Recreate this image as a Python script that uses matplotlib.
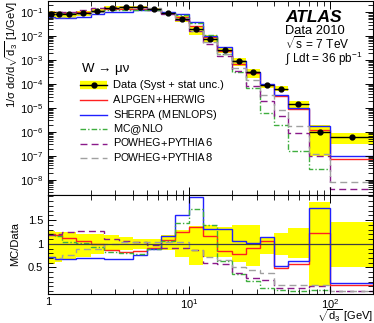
import numpy as np
import matplotlib
matplotlib.use('Agg')
import matplotlib.pyplot as plt
from matplotlib.lines import Line2D
from matplotlib.offsetbox import TextArea, HPacker, AnnotationBbox
from matplotlib.ticker import LogLocator, FixedLocator, FuncFormatter, MultipleLocator, NullFormatter

plt.rcParams['font.family'] = ['Liberation Sans', 'DejaVu Sans']
plt.rcParams['mathtext.fontset'] = 'custom'
plt.rcParams['mathtext.rm'] = 'Liberation Sans'
plt.rcParams['mathtext.it'] = 'Liberation Sans:italic'
plt.rcParams['mathtext.bf'] = 'Liberation Sans:bold'

# bin edges of sqrt(d3) [GeV]
edges = [1, 1.12, 1.26, 1.58, 2.0, 2.51, 3.16, 3.98, 5.01, 6.31, 7.94, 10,
         12.6, 15.8, 20, 25.1, 31.6, 39.8, 50.1, 70, 100, 200]

# measured distribution 1/sigma dsigma/dsqrt(d3)
data = [0.086, 0.086, 0.086, 0.094, 0.118, 0.152, 0.16, 0.16, 0.139, 0.091,
        0.053, 0.020, 0.0078, 0.0027, 9.1e-4, 3.2e-4, 8.9e-5, 6.5e-5, 1.5e-5,
        1.0e-6, 5.9e-7]

# total uncertainty band, relative to data
band_up = [1.27, 1.25, 1.25, 1.21, 1.21, 1.18, 1.14, 1.11, 1.10, 1.18, 1.30,
           1.38, 1.39, 1.35, 1.39, 1.39, 1.14, 1.22, 1.33, 1.88, 1.46]
band_dn = [0.58, 0.62, 0.67, 0.72, 0.79, 0.86, 0.86, 0.90, 0.90, 0.86, 0.72,
           0.55, 0.72, 0.72, 0.61, 0.54, 0.79, 0.76, 0.69, 0.10, 0.51]

# MC / data ratios
alpgen = [1.21, 1.19, 1.12, 1.06, 1.00, 0.86, 0.83, 0.85, 0.92, 1.07, 1.25,
          1.36, 1.17, 0.85, 0.79, 0.91, 1.05, 0.48, 0.58, 1.23, 0.12]
sherpa = [0.72, 0.67, 0.67, 0.70, 0.70, 0.67, 0.67, 0.76, 0.90, 1.16, 1.60,
          1.98, 1.32, 1.32, 1.05, 1.02, 1.15, 0.54, 0.64, 1.76, 0.17]
mcatnlo = [1.21, 1.17, 1.04, 1.02, 0.93, 0.83, 0.81, 0.79, 0.88, 1.06, 1.44,
           1.73, 1.39, 0.64, 0.36, 0.21, 0.07, 0.029, 0.011, 0.028]
powheg6 = [1.18, 1.21, 1.24, 1.28, 1.26, 1.11, 1.06, 1.04, 0.97, 0.91, 0.91,
           0.86, 0.60, 0.57, 0.38, 0.27, 0.23, 0.07, 0.062, 0.10, 0.007]
powheg8 = [0.69, 0.71, 0.76, 0.90, 0.90, 1.00, 1.04, 1.04, 1.04, 1.04, 1.04,
           0.86, 0.72, 0.65, 0.52, 0.45, 0.38, 0.13, 0.12, 0.12, 0.013]

edges = np.array(edges)
data = np.array(data)
centers = np.sqrt(edges[:-1] * edges[1:])

c_red, c_blue, c_green, c_purple, c_gray = '#ff2020', '#2020ff', '#3fae3f', '#8a1a8a', '#a0a0a0'
models = [
    (alpgen, c_red, '-'),
    (sherpa, c_blue, '-'),
    (mcatnlo, c_green, (0, (4, 1.5, 1, 1.5))),
    (powheg6, c_purple, (0, (5, 3))),
    (powheg8, c_gray, (0, (5, 3))),
]

fig = plt.figure(figsize=(3.74, 3.23), dpi=100)
L, R = 48 / 374, 373 / 374
ax = fig.add_axes([L, 1 - 195 / 323, R - L, 194.5 / 323])
ax2 = fig.add_axes([L, 1 - 294 / 323, R - L, 99 / 323], sharex=ax)

# top panel
ax.stairs(data * np.array(band_up), edges, baseline=data * np.array(band_dn),
          fill=True, color='#ffff00', lw=0)
for ratio, col, ls in models:
    r = np.array(ratio)
    ax.stairs(data[:len(r)] * r, edges[:len(r) + 1], baseline=None,
              color=col, ls=ls, lw=1.0)
ax.errorbar(centers, data, xerr=[centers - edges[:-1], edges[1:] - centers],
            fmt='o', color='k', ms=3.5, lw=1.0, capsize=0)
ax.set_xscale('log')
ax.set_yscale('log')
ax.set_xlim(1, 200)
ax.set_ylim(2.3e-9, 0.31)
ax.set_ylabel('1/σ dσ/d$\\sqrt{\\mathrm{d}_3}$ [1/GeV]', loc='top', fontsize=8)
ax.yaxis.set_label_coords(-0.085, 1.0)
ax.yaxis.set_major_locator(FixedLocator([1e-8, 1e-7, 1e-6, 1e-5, 1e-4, 1e-3, 1e-2, 1e-1]))
ax.yaxis.set_minor_locator(LogLocator(base=10, subs=np.arange(2, 10), numticks=20))
ax.yaxis.set_minor_formatter(NullFormatter())
plt.setp(ax.get_xticklabels(), visible=False)

# ratio panel
ax2.stairs(band_up, edges, baseline=band_dn, fill=True, color='#ffff00', lw=0)
ax2.axhline(1, color='#404040', lw=0.9)
for ratio, col, ls in models:
    ax2.stairs(ratio, edges[:len(ratio) + 1], baseline=None, color=col, ls=ls, lw=1.0)
ax2.set_ylim(-0.06, 2.03)
ax2.yaxis.set_major_locator(FixedLocator([0.5, 1.0, 1.5]))
ax2.yaxis.set_major_formatter(FuncFormatter(lambda v, p: '%g' % v))
ax2.yaxis.set_minor_locator(MultipleLocator(0.1))
ax2.set_ylabel('MC/Data', fontsize=8)
ax2.yaxis.set_label_coords(-0.085, 0.5)
ax2.set_xlabel('$\\sqrt{\\mathrm{d}_3}$ [GeV]', loc='right', fontsize=8)
ax2.xaxis.set_label_coords(1.0, -0.135)
ax2.xaxis.set_major_locator(FixedLocator([1, 10, 100]))
ax2.xaxis.set_major_formatter(FuncFormatter(
    lambda v, p: {1: '1', 10: '$10^{1}$', 100: '$10^{2}$'}.get(int(round(v)), '')))
ax2.xaxis.set_minor_locator(LogLocator(base=10, subs=np.arange(2, 10), numticks=20))
ax2.xaxis.set_minor_formatter(NullFormatter())

for a in (ax, ax2):
    a.tick_params(which='both', direction='in', top=True, right=True, labelsize=8)
    a.tick_params(which='major', length=6, width=0.7)
    a.tick_params(which='minor', length=3.5, width=0.6)
    for s in a.spines.values():
        s.set_linewidth(0.8)
ax2.tick_params(axis='x', which='major', pad=2)

# labels
fig.text(285 / 374, 1 - 17 / 323, 'ATLAS', fontsize=12.5, fontweight='bold',
         style='italic', va='center', ha='left')
fig.text(285 / 374, 1 - 31 / 323, 'Data 2010', fontsize=9.3, va='center')
fig.text(285 / 374, 1 - 44 / 323, '$\\sqrt{\\mathrm{s}}$ = 7 TeV', fontsize=8.6, va='center')
fig.text(285 / 374, 1 - 59 / 323, '$\\int$ Ldt = 36 pb$^{-1}$', fontsize=8.5, va='center')
fig.text(82 / 374, 1 - 69 / 323, 'W → μν', fontsize=9.5, va='center')

# legend with small caps
BIG, SMALL = 8, 7.5
rows = [
    [('Data (Syst + stat unc.)', BIG)],
    [('A', BIG), ('LPGEN', SMALL), ('+', BIG), ('H', BIG), ('ERWIG', SMALL)],
    [('S', BIG), ('HERPA', SMALL), (' (M', BIG), ('ENLOPS', SMALL), (')', BIG)],
    [('M', BIG), ('C', SMALL), ('@', BIG), ('N', BIG), ('LO', SMALL)],
    [('P', BIG), ('OWHEG', SMALL), ('+', BIG), ('P', BIG), ('YTHIA', SMALL), ('6', BIG)],
    [('P', BIG), ('OWHEG', SMALL), ('+', BIG), ('P', BIG), ('YTHIA', SMALL), ('8', BIG)],
]
row_y = [85, 100, 114.5, 129, 143.5, 158]
x0, x1, xt = 80, 107, 113
H = 323
for i, (parts, yp) in enumerate(zip(rows, row_y)):
    yy = H - yp
    if i == 0:
        fig.add_artist(Line2D([x0, x1], [yy, yy], transform=None, color='#ffff00', lw=6,
                              solid_capstyle='butt'))
        fig.add_artist(Line2D([x0, x1], [yy, yy], transform=None, color='k', lw=1.0))
        fig.add_artist(Line2D([(x0 + x1) / 2], [yy], transform=None, color='k',
                              marker='o', ms=3.5))
    else:
        _, col, ls = models[i - 1]
        fig.add_artist(Line2D([x0, x1], [yy, yy], transform=None, color=col, ls=ls, lw=1.0))
    box = HPacker(children=[TextArea(t, textprops=dict(fontsize=s)) for t, s in parts],
                  align='baseline', pad=0, sep=0)
    ab = AnnotationBbox(box, (xt, yy), xycoords='figure pixels', box_alignment=(0, 0.5),
                        frameon=False, pad=0)
    fig.add_artist(ab)

fig.savefig('out.png', dpi=100)
